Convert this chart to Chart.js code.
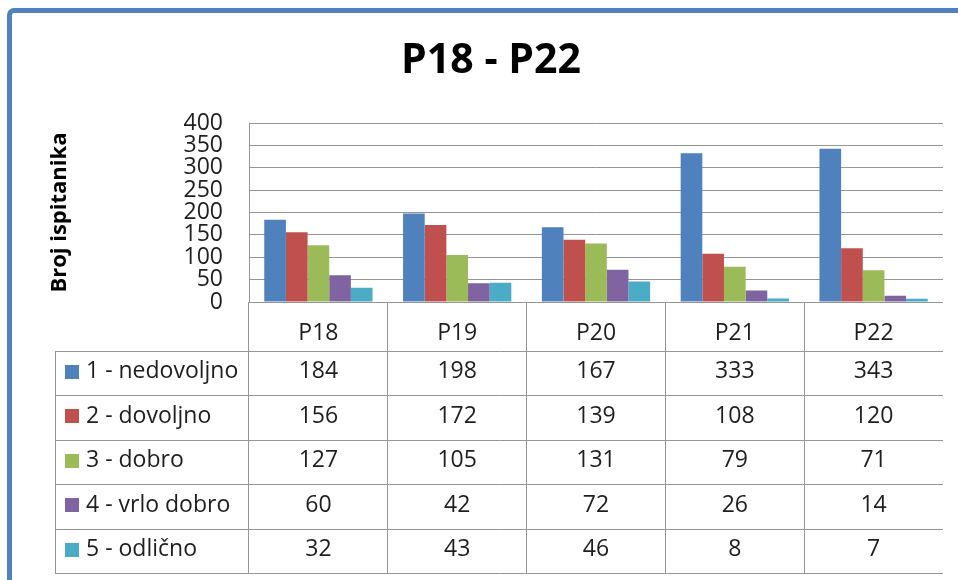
<!DOCTYPE html>
<html><head><meta charset="utf-8">
<script src="https://cdn.jsdelivr.net/npm/chart.js@4"></script>
<style>
html,body{margin:0;padding:0;background:#fff;overflow:hidden;width:958px;height:580px;}
#frame{position:absolute;left:7px;top:8px;width:1000px;height:1000px;border:5px solid #4F81BD;border-radius:7px;box-sizing:border-box;}
#wrap{position:absolute;left:39px;top:0;width:904px;height:580px;}
</style></head><body>
<div id="frame"></div>
<div id="wrap"><canvas id="c" width="904" height="580"></canvas></div>
<script>
const categories = ['P18', 'P19', 'P20', 'P21', 'P22'];
const seriesNames = ['1 - nedovoljno', '2 - dovoljno', '3 - dobro', '4 - vrlo dobro', '5 - odlično'];
const nedovoljno = [184, 198, 167, 333, 343];
const dovoljno = [156, 172, 139, 108, 120];
const dobro = [127, 105, 131, 79, 71];
const vrloDobro = [60, 42, 72, 26, 14];
const odlicno = [32, 43, 46, 8, 7];
const yTicks = [0, 50, 100, 150, 200, 250, 300, 350, 400];
const seriesColors = ['#4F81BD', '#C0504D', '#9BBB59', '#8064A2', '#4BACC6'];

const seriesValues = [nedovoljno, dovoljno, dobro, vrloDobro, odlicno];
const gridColor = '#969696';
const textColor = '#1e1e1e';
const FONT = "'Open Sans', 'Noto Sans', sans-serif";

function align(p) { return Math.round(p - 0.5) + 0.5; }

const tablePlugin = {
  id: 'dataTable',
  afterDraw(chart) {
    const { ctx, chartArea } = chart;
    const x = chart.scales.x;
    const colW = x.getPixelForValue(1) - x.getPixelForValue(0);
    const headTop = chartArea.bottom;
    const rowTop = x.bottom;
    const rowH = 44.5;
    const nRows = seriesNames.length;
    const tableBottom = rowTop + nRows * rowH;
    const legLeft = 16;
    const right = chartArea.right;
    ctx.save();
    ctx.strokeStyle = gridColor;
    ctx.lineWidth = 1;
    ctx.beginPath();
    for (let r = 0; r <= nRows; r++) {
      const yy = align(rowTop + r * rowH);
      ctx.moveTo(legLeft, yy); ctx.lineTo(align(right) + 0.5, yy);
    }
    for (let i = 0; i <= categories.length; i++) {
      const xx = align(i < categories.length ? x.getPixelForValue(i) - colW / 2 : x.getPixelForValue(categories.length - 1) + colW / 2);
      ctx.moveTo(xx, headTop); ctx.lineTo(xx, align(tableBottom));
    }
    ctx.moveTo(align(legLeft), align(rowTop)); ctx.lineTo(align(legLeft), align(tableBottom));
    ctx.stroke();

    ctx.font = '23px ' + FONT;
    ctx.fillStyle = textColor;
    ctx.textBaseline = 'middle';
    for (let r = 0; r < nRows; r++) {
      const cy = rowTop + r * rowH + rowH / 2 - 1.5;
      ctx.fillStyle = seriesColors[r];
      ctx.fillRect(26, Math.round(cy - 7), 14, 14);
      ctx.fillStyle = textColor;
      ctx.textAlign = 'left';
      ctx.fillText(seriesNames[r], 47, cy);
      ctx.textAlign = 'center';
      for (let i = 0; i < categories.length; i++) {
        ctx.fillText(String(seriesValues[r][i]), x.getPixelForValue(i), cy);
      }
    }
    ctx.restore();
  }
};

new Chart(document.getElementById('c'), {
  type: 'bar',
  data: {
    labels: categories,
    datasets: seriesNames.map((n, k) => ({
      label: n,
      data: seriesValues[k],
      backgroundColor: seriesColors[k],
      borderWidth: 0,
      categoryPercentage: 0.78,
      barPercentage: 1.0
    }))
  },
  options: {
    responsive: false,
    animation: false,
    devicePixelRatio: 1,
    layout: { padding: { left: 0, right: 0, top: 0, bottom: 229 } },
    plugins: {
      legend: { display: false },
      tooltip: { enabled: false },
      title: {
        display: true,
        text: 'P18 - P22',
        color: '#000',
        font: { family: FONT, size: 41, weight: 'bold', lineHeight: 1.2 },
        padding: { top: 37, bottom: 37 }
      }
    },
    scales: {
      x: {
        grid: { display: false },
        border: { display: true, color: gridColor, width: 1 },
        ticks: { color: textColor, font: { family: FONT, size: 23 }, padding: 10, maxRotation: 0, autoSkip: false },
        afterFit(s) { s.height = 49; }
      },
      y: {
        min: 0, max: 400,
        afterBuildTicks(s) { s.ticks = yTicks.map(v => ({ value: v })); },
        grid: { color: gridColor, drawTicks: false },
        border: { display: true, color: gridColor, width: 1 },
        ticks: { color: textColor, font: { family: FONT, size: 23, lineHeight: 1 }, padding: 26, autoSkip: false },
        title: {
          display: true,
          text: 'Broj ispitanika',
          color: '#000',
          font: { family: FONT, size: 22, weight: 'bold', lineHeight: 1.2 },
          padding: { top: 8, bottom: 0 }
        },
        afterFit(s) { s.width = 210; }
      }
    }
  },
  plugins: [tablePlugin]
});
</script>
</body></html>
